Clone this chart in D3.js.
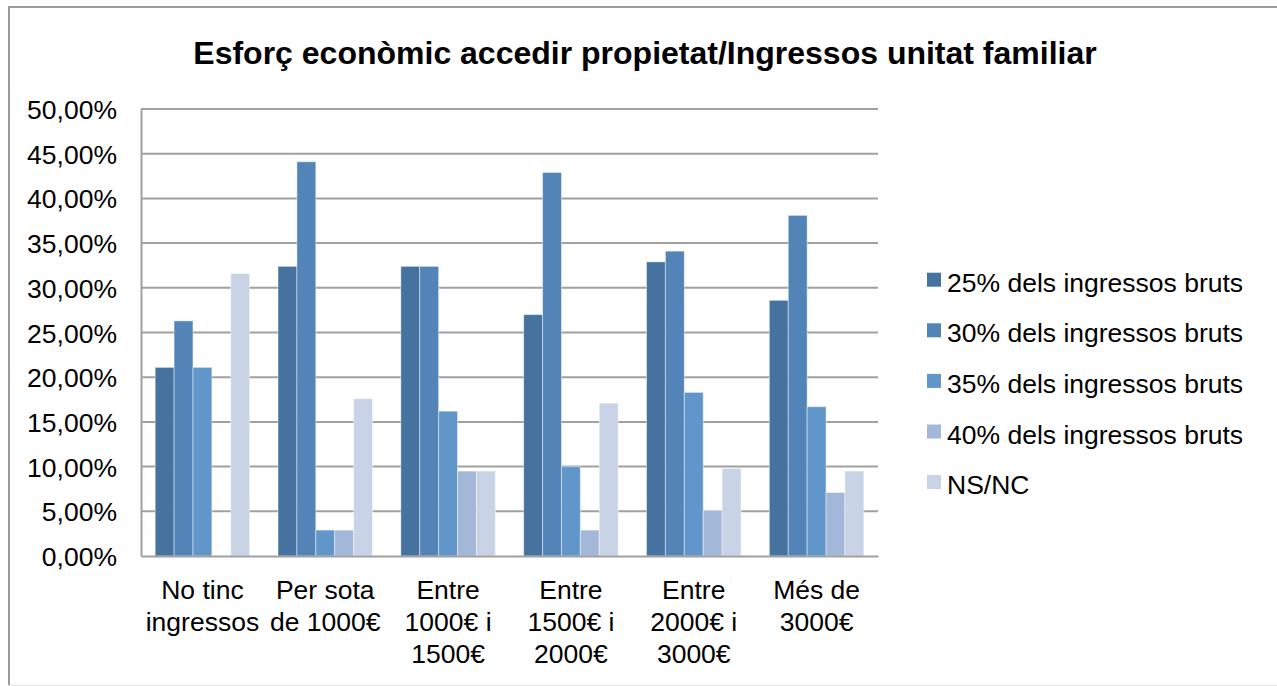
<!DOCTYPE html>
<html>
<head>
<meta charset="utf-8">
<script src="https://cdn.jsdelivr.net/npm/d3@7"></script>
<style>
  html, body { margin: 0; padding: 0; background: #ffffff; }
  svg { display: block; font-family: "Liberation Sans", Arial, sans-serif; }
</style>
</head>
<body>
<svg id="chart" width="1277" height="686"></svg>
<script>
// Income brackets (x categories), each label split into its drawn lines
const categories = [
  ["No tinc", "ingressos"],
  ["Per sota", "de 1000€"],
  ["Entre", "1000€ i", "1500€"],
  ["Entre", "1500€ i", "2000€"],
  ["Entre", "2000€ i", "3000€"],
  ["Més de", "3000€"]
];

// Series: share of respondents (%) per income bracket
const seriesNames = [
  "25% dels ingressos bruts",
  "30% dels ingressos bruts",
  "35% dels ingressos bruts",
  "40% dels ingressos bruts",
  "NS/NC"
];
const s25 = [21.1, 32.4, 32.4, 27.0, 32.9, 28.6];
const s30 = [26.3, 44.1, 32.4, 42.9, 34.1, 38.1];
const s35 = [21.1, 2.9, 16.2, 10.0, 18.3, 16.7];
const s40 = [0, 2.9, 9.5, 2.9, 5.1, 7.1];
const sNsnc = [31.6, 17.6, 9.5, 17.1, 9.8, 9.5];
const seriesValues = [s25, s30, s35, s40, sNsnc];
const seriesColors = ["#46729f", "#5384b7", "#6096ca", "#a3b7d8", "#c8d3e5"];

const yTicks = [0, 5, 10, 15, 20, 25, 30, 35, 40, 45, 50];
const fmt = v => v.toFixed(2).replace(".", ",") + "%";

const FONT = 26.5;
const svg = d3.select("#chart");

// Chart area frame
svg.append("line").attr("x1", 8).attr("x2", 1277).attr("y1", 7).attr("y2", 7)
  .attr("stroke", "#9a9a9a").attr("stroke-width", 2);
svg.append("line").attr("x1", 9).attr("x2", 9).attr("y1", 6).attr("y2", 686)
  .attr("stroke", "#9a9a9a").attr("stroke-width", 2);
svg.append("line").attr("x1", 8).attr("x2", 1277).attr("y1", 685.5).attr("y2", 685.5)
  .attr("stroke", "#e6e6e6").attr("stroke-width", 1);

// Title
svg.append("text")
  .attr("x", 645).attr("y", 64)
  .attr("text-anchor", "middle")
  .attr("font-weight", "bold")
  .attr("font-size", 32)
  .attr("fill", "#000")
  .text("Esforç econòmic accedir propietat/Ingressos unitat familiar");

const plot = { left: 141, right: 878, top: 109, bottom: 556 };

const x0 = d3.scaleBand()
  .domain(d3.range(categories.length))
  .range([plot.left, plot.right]);

// 150% gap between clusters, bars touching within a cluster
const barW = x0.bandwidth() / (seriesNames.length + 1.5);
const x1 = d3.scaleBand()
  .domain(d3.range(seriesNames.length))
  .range([0.75 * barW, 0.75 * barW + barW * seriesNames.length]);

const y = d3.scaleLinear().domain([0, 50]).range([plot.bottom, plot.top]);

// Horizontal gridlines
svg.append("g")
  .selectAll("line")
  .data(yTicks.filter(t => t > 0))
  .join("line")
  .attr("x1", plot.left).attr("x2", plot.right)
  .attr("y1", d => y(d)).attr("y2", d => y(d))
  .attr("stroke", "#a0a0a0").attr("stroke-width", 2);

// Y axis
const yAxis = svg.append("g")
  .attr("transform", `translate(${plot.left},0)`)
  .call(d3.axisLeft(y).tickValues(yTicks).tickFormat(fmt).tickSize(0).tickPadding(24));
yAxis.select(".domain").attr("stroke", "#a0a0a0").attr("stroke-width", 2);
yAxis.selectAll("text")
  .attr("font-size", FONT)
  .attr("font-family", "Liberation Sans, Arial, sans-serif")
  .attr("fill", "#000")
  .attr("dy", "0.36em");

// Bars
const groups = svg.append("g")
  .selectAll("g")
  .data(categories.map((c, i) => i))
  .join("g")
  .attr("transform", i => `translate(${x0(i)},0)`);

groups.selectAll("rect")
  .data(i => seriesValues.map((vals, s) => ({ s, v: vals[i] })))
  .join("rect")
  .filter(d => d.v > 0)
  .attr("x", d => x1(d.s))
  .attr("width", x1.bandwidth())
  .attr("y", d => y(d.v))
  .attr("height", d => y(0) - y(d.v))
  .attr("fill", d => seriesColors[d.s])
  .attr("stroke", "rgba(255,255,255,0.45)")
  .attr("stroke-width", 1);

// X axis baseline
const xAxis = svg.append("g")
  .attr("transform", `translate(0,${plot.bottom})`)
  .call(d3.axisBottom(x0).tickSize(0).tickFormat(""));
xAxis.select(".domain").attr("stroke", "#a0a0a0").attr("stroke-width", 2);

// Multi-line category labels
xAxis.selectAll(".tick").each(function (i) {
  const t = d3.select(this).append("text")
    .attr("text-anchor", "middle")
    .attr("font-size", FONT)
    .attr("font-family", "Liberation Sans, Arial, sans-serif")
    .attr("fill", "#000");
  categories[i].forEach((line, k) => {
    t.append("tspan").attr("x", 0).attr("y", 42.5 + k * 32).text(line);
  });
});

// Legend
const legend = svg.append("g").attr("transform", "translate(927,272.7)");
const items = legend.selectAll("g")
  .data(seriesNames)
  .join("g")
  .attr("transform", (d, i) => `translate(0,${i * 50.6})`);
items.append("rect")
  .attr("width", 14).attr("height", 14)
  .attr("fill", (d, i) => seriesColors[i]);
items.append("text")
  .attr("x", 20).attr("y", 19)
  .attr("font-size", FONT)
  .attr("fill", "#000")
  .text(d => d);
</script>
</body>
</html>
